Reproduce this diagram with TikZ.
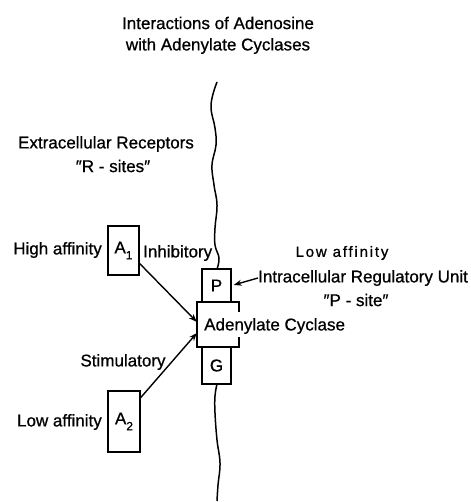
\documentclass[tikz,border=0pt]{standalone}
\usepackage{fontspec}
\setmainfont{Liberation Sans}[FakeBold=0.8]
\usetikzlibrary{arrows.meta,calc}
\begin{document}
\begin{tikzpicture}[x=1pt,y=-1pt,
  lbl/.style={inner sep=0pt, font=\fontsize{17}{20}\selectfont},
  lblsp/.style={inner sep=0pt, font=\fontsize{15}{18}\selectfont\addfontfeature{LetterSpace=12}},
  bx/.style={draw, line width=1.6pt, inner sep=0pt, font=\fontsize{17}{20}\selectfont},
  ln/.style={line width=1.5pt},
  arr/.style={line width=1.4pt, -{Stealth[length=8pt,width=6pt]}}
]
\useasboundingbox (0,0) rectangle (470,502);

% membrane (wavy line)
\draw[ln] plot[smooth, tension=0.7] coordinates {(217,82) (211,105) (215,128) (216,145) (212,165) (214,185) (217,205) (215,228) (215,245) (219,258) (217,269)};
\draw[ln] plot[smooth, tension=0.7] coordinates {(217,384) (215,396) (215,413) (217,440) (220,463) (218,485) (217,501)};

% boxes
\node[bx, minimum width=31pt, minimum height=49pt] (a1) at (123.5,250.5) {A\raisebox{-6pt}{\fontsize{12}{12}\selectfont 1}};
\node[bx, minimum width=32pt, minimum height=61pt] (a2) at (124,421.5) {A\raisebox{-6pt}{\fontsize{12}{12}\selectfont 2}};
\node[bx, minimum width=29pt, minimum height=33pt] (p) at (216.5,285.5) {P};
\node[bx, minimum width=29pt, minimum height=37pt] (g) at (216.5,365.5) {G};
\node[inner sep=0pt, minimum width=42pt, minimum height=45pt] (ac) at (218,324.5) {};
\draw[line width=1.6pt] ($(ac.north east)+(0,10)$) -- (ac.north east) -- (ac.north west) -- (ac.south west) -- (ac.south east) -- ($(ac.south east)+(0,-10)$);

% texts
\node[lbl] (t1) at (218,23) {Interactions of Adenosine};
\node[lbl] (t2) at (218,46) {with Adenylate Cyclases};
\node[lbl] (er) at (106,144) {Extracellular Receptors};
\node[lbl] (rs) at (113,166) {″R - sites″};
\node[lbl, anchor=east] (ha) at (102,250) {High affinity};
\node[lbl, anchor=west] (inh) at (143,253) {Inhibitory};
\node[lblsp] (la1) at (342,253) {Low affinity};
\node[lbl, anchor=west] (ir) at (258,278) {Intracellular Regulatory Unit};
\node[lbl] (ps) at (356,300) {″P - site″};
\node[lbl, anchor=west] (acl) at (204,326) {Adenylate Cyclase};
\node[lbl] (st) at (123,362) {Stimulatory};
\node[lbl, anchor=east] (la2) at (102,422) {Low affinity};

% arrows
\draw[arr] (a1.-39) -- (ac.173);
\draw[arr] (a2.55) -- (ac.202);
\draw[arr, shorten >=2pt] (ir.west) -- (p.east);
\end{tikzpicture}
\end{document}
